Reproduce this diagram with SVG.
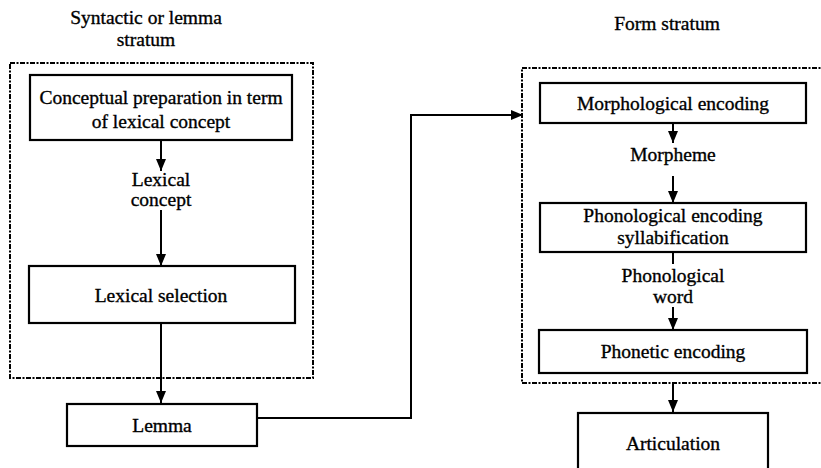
<svg xmlns="http://www.w3.org/2000/svg" width="821" height="468" viewBox="0 0 821 468">
<defs>
<marker id="ah" markerWidth="12" markerHeight="12" viewBox="0 0 12 12" refX="12" refY="6" orient="auto" markerUnits="userSpaceOnUse">
<path d="M0,1 L12,6 L0,11 Z" fill="#000"/>
</marker>
<style>
.box{fill:#fff;stroke:#000;stroke-width:2.2}
.strat{fill:none;stroke:#000;stroke-width:2;stroke-dasharray:5 1.5 2 1.5}
.t{font-family:'Liberation Serif','Times New Roman',serif;font-size:19.5px;fill:#000;text-anchor:middle;stroke:#000;stroke-width:0.35}
.c{fill:none;stroke:#000;stroke-width:2}
</style>
</defs>
<rect width="821" height="468" fill="#fff"/>
<g id="titles">
<text class="t" x="146" y="24">Syntactic or lemma</text>
<text class="t" x="146" y="46">stratum</text>
<text class="t" x="667" y="30">Form stratum</text>
</g>
<g id="lemma-stratum"><rect class="strat" x="10" y="63" width="303" height="315"/></g>
<g id="form-stratum"><rect class="strat" x="522" y="68" width="305" height="315"/></g>
<g id="connectors">
<line class="c" x1="161" y1="140" x2="161" y2="171" marker-end="url(#ah)"/>
<line class="c" x1="161" y1="210" x2="161" y2="266" marker-end="url(#ah)"/>
<line class="c" x1="161" y1="323" x2="161" y2="403" marker-end="url(#ah)"/>
<polyline class="c" points="257,418 411,418 411,115 523,115" marker-end="url(#ah)"/>
<line class="c" x1="673" y1="123" x2="673" y2="143" marker-end="url(#ah)"/>
<line class="c" x1="673" y1="176" x2="673" y2="203" marker-end="url(#ah)"/>
<line class="c" x1="673" y1="252" x2="673" y2="264"/>
<line class="c" x1="673" y1="307" x2="673" y2="330" marker-end="url(#ah)"/>
<line class="c" x1="673" y1="383" x2="673" y2="412" marker-end="url(#ah)"/>
</g>
<g id="conceptual-preparation">
<rect class="box" x="30" y="75" width="262" height="65"/>
<text class="t" x="161" y="104">Conceptual preparation in term</text>
<text class="t" x="161" y="128">of lexical concept</text>
</g>
<g id="lexical-concept-label">
<text class="t" x="161" y="186">Lexical</text>
<text class="t" x="161" y="206">concept</text>
</g>
<g id="lexical-selection">
<rect class="box" x="29" y="266" width="266" height="57"/>
<text class="t" x="161" y="302">Lexical selection</text>
</g>
<g id="lemma">
<rect class="box" x="67" y="404" width="190" height="42"/>
<text class="t" x="162" y="432">Lemma</text>
</g>
<g id="morphological-encoding">
<rect class="box" x="540" y="83" width="266" height="40"/>
<text class="t" x="673" y="110">Morphological encoding</text>
</g>
<g id="morpheme-label"><text class="t" x="673" y="161">Morpheme</text></g>
<g id="phonological-encoding">
<rect class="box" x="540" y="203" width="266" height="49"/>
<text class="t" x="673" y="222">Phonological encoding</text>
<text class="t" x="673" y="244">syllabification</text>
</g>
<g id="phonological-word-label">
<text class="t" x="673" y="282">Phonological</text>
<text class="t" x="673" y="303">word</text>
</g>
<g id="phonetic-encoding">
<rect class="box" x="539" y="330" width="268" height="43"/>
<text class="t" x="673" y="358">Phonetic encoding</text>
</g>
<g id="articulation">
<rect class="box" x="578" y="413" width="190" height="70"/>
<text class="t" x="673" y="450">Articulation</text>
</g>
</svg>
